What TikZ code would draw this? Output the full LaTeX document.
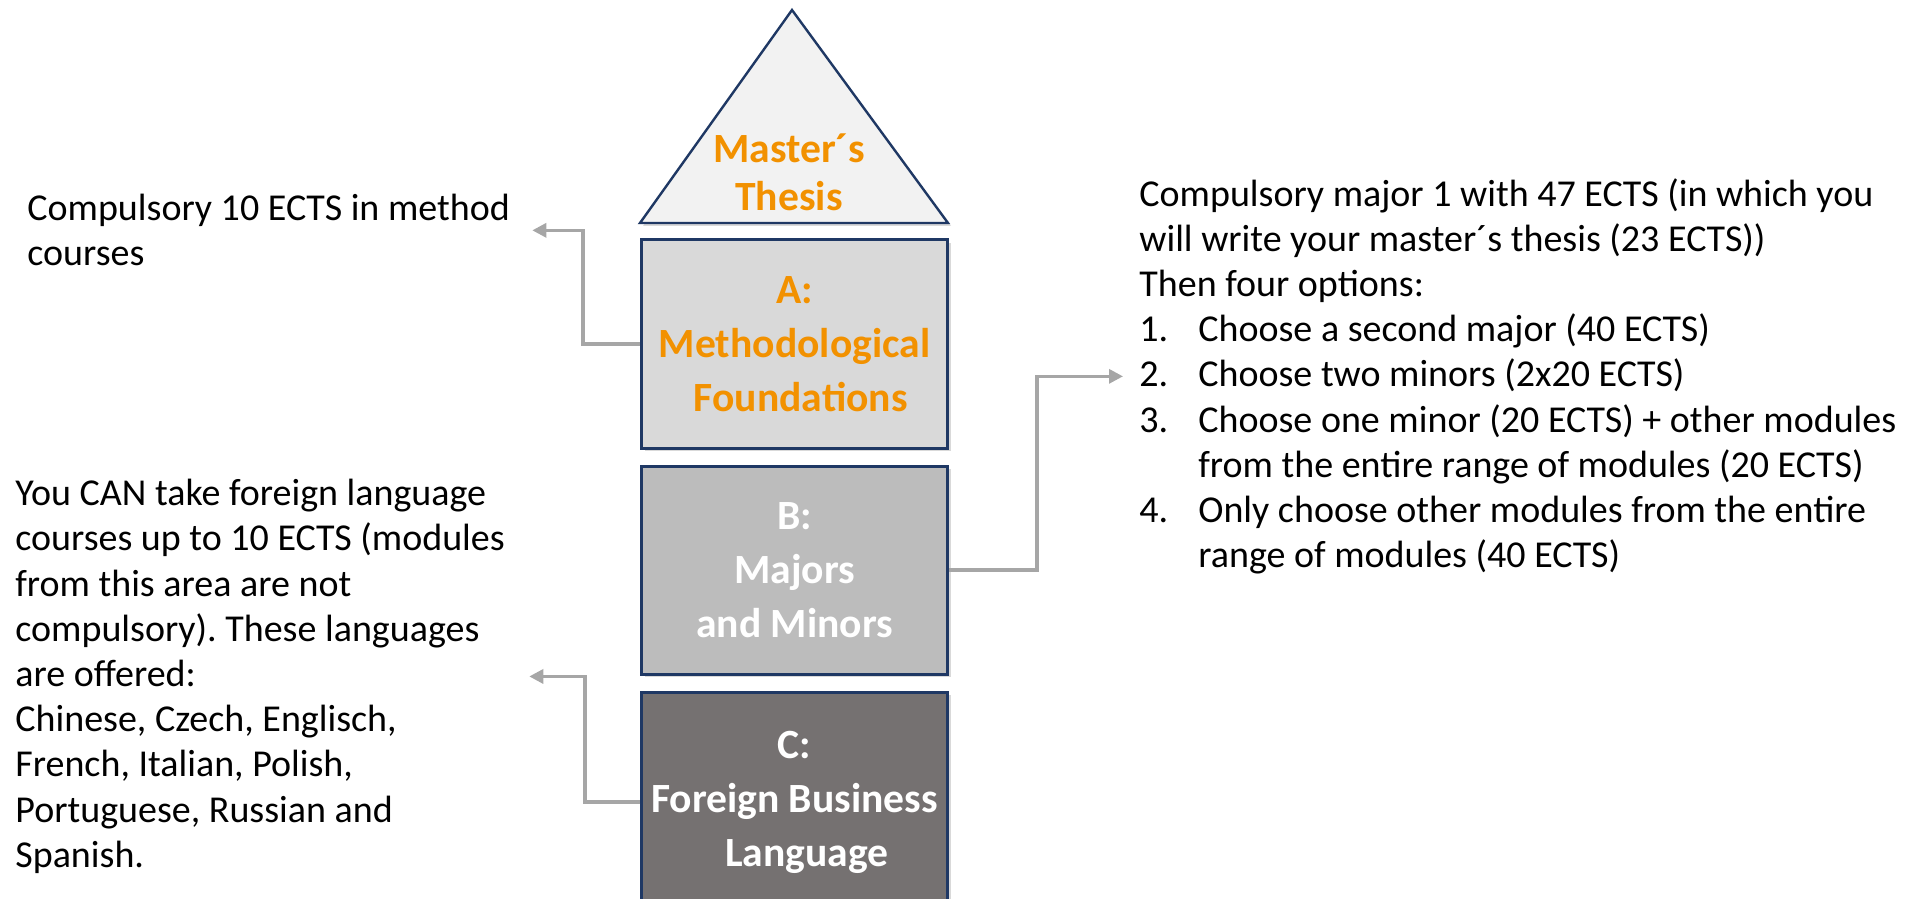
\documentclass[tikz,border=0pt]{standalone}
\usepackage{fontspec}
\setmainfont{Carlito}
\frenchspacing
\usetikzlibrary{positioning, arrows.meta, shadows}

\definecolor{navy}{HTML}{1F3864}
\definecolor{roofgray}{HTML}{F2F2F2}
\definecolor{agray}{HTML}{D9D9D9}
\definecolor{bgray}{HTML}{BCBCBC}
\definecolor{cgray}{HTML}{757171}
\definecolor{linkgray}{HTML}{A6A6A6}
\definecolor{orange}{HTML}{F29100}

\begin{document}
\begin{tikzpicture}[x=0.5pt, y=-0.5pt,% one unit = one pixel, y downwards
node distance = 7.5pt,% for distance between the boxes
   box/.style = {draw=navy, line width=1.5pt, minimum width=153pt, minimum height=104pt,
                 inner sep=0pt, align=center, font=\fontsize{20.8}{27}\selectfont\bfseries,
                 drop shadow={shadow xshift=1.5pt, shadow yshift=-1.5pt, opacity=0.3}},
   roof/.style = {draw=navy, line width=1.2pt, fill=roofgray,
                 drop shadow={shadow xshift=1.5pt, shadow yshift=-1.5pt, opacity=0.3}},
   note/.style = {inner sep=0pt, align=left, anchor=north west,
                 font=\fontsize{19}{22.6}\selectfont},
      arrow/.style = {draw=linkgray, line width=1.6pt, -{Triangle[length=7pt,width=7pt]}}
                        ]
\useasboundingbox (0,0) rectangle (1919,899);
% roof with the thesis
\draw [roof] (640,223) -- (792,10) -- (948,223) -- cycle;
\node (n0) [align=center, text=orange, font=\fontsize{20.8}{24}\selectfont\bfseries]
      at (789,172) {Master´s\\Thesis};
% the three areas
\node (n1) [box, fill=agray, text=orange] at (794.5,344)
      {A:\\Methodological\\\hspace*{0.3em}Foundations};
\node (n2) [box, fill=bgray, text=white, below=of n1]
      {B:\\Majors\\and Minors};
\node (n3) [box, fill=cgray, text=white, minimum height=110pt, below=of n2]
      {C:\\Foreign Business\\\hspace*{0.6em}Language};
% notes
\node (t1) [note] at (27,194) {Compulsory 10 ECTS in method\\courses};
\node (t2) [note] at (1139,178)
      {Compulsory major 1 with 47 ECTS (in which you\\
       will write your master´s thesis (23 ECTS))\\
       Then four options:\\
       \makebox[29.5pt][l]{1.}Choose a second major (40 ECTS)\\
       \makebox[29.5pt][l]{2.}Choose two minors (2x20 ECTS)\\
       \makebox[29.5pt][l]{3.}Choose one minor (20 ECTS) + other modules\\
       \hspace*{29.5pt}from the entire range of modules (20 ECTS)\\
       \makebox[29.5pt][l]{4.}Only choose other modules from the entire\\
       \hspace*{29.5pt}range of modules (40 ECTS)};
\node (t3) [note] at (15,479)
      {You CAN take foreign language\\
       courses up to 10 ECTS (modules\\
       from this area are not\\
       compulsory). These languages\\
       are offered:\\
       Chinese, Czech, Englisch,\\
       French, Italian, Polish,\\
       Portuguese, Russian and\\
       Spanish.};
% connectors
\draw [arrow, shorten >=11pt] (n1.west) -- ++(-57,0) |- (t1.east);
\draw [arrow, shorten >=8pt] (n2.east) -- ++(88,0) |- (t2.west);
\draw [arrow, shorten >=12pt] (n3.west) -- ++(-55,0) |- (t3.east);
\end{tikzpicture}
\end{document}
